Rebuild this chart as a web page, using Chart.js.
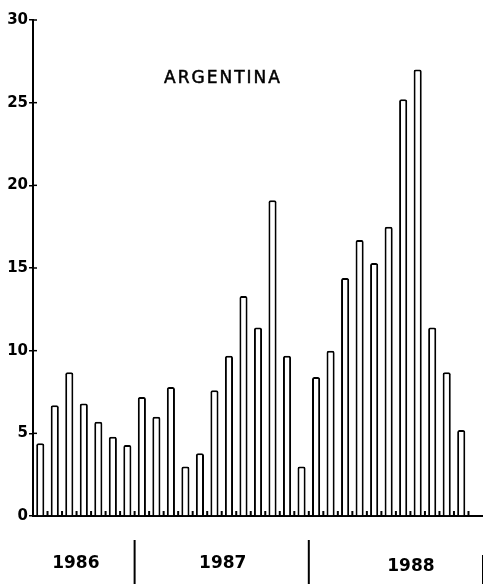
<!DOCTYPE html>
<html lang="es">
<head>
<meta charset="UTF-8">
<title>Argentina</title>
<script src="https://cdn.jsdelivr.net/npm/chart.js"></script>
<style>
  html, body { margin: 0; padding: 0; background: #fff; }
  #wrap { width: 483px; height: 584px; position: relative; }
</style>
</head>
<body>
<div id="wrap"><canvas id="grafico"></canvas></div>
<script>
// datos (jun 1986 - dic 1988)
const anios = ['1986', '1987', '1988'];
const mesInicial = [6, 1, 1];
const valores1986 = [4.4, 6.7, 8.7, 6.8, 5.7, 4.8, 4.3];
const valores1987 = [7.2, 6.0, 7.8, 3.0, 3.8, 7.6, 9.7, 13.3, 11.4, 19.1, 9.7, 3.0];
const valores1988 = [8.4, 10.0, 14.4, 16.7, 15.3, 17.5, 25.2, 27.0, 11.4, 8.7, 5.2, null];
const ticksY = [0, 5, 10, 15, 20, 25, 30];
const titulo = 'ARGENTINA';

const porAnio = [valores1986, valores1987, valores1988];
const etiquetas = [];
const valores = [];
porAnio.forEach(function (lista, a) {
    lista.forEach(function (v, i) {
        etiquetas.push(anios[a] + '-' + String(mesInicial[a] + i).padStart(2, '0'));
        valores.push(v);
    });
});

const fuente = "'DejaVu Sans', sans-serif";
// ajuste manual de los textos de año (estilo, no datos)
const ajusteAnioX = [-8, 1, 15];
const ajusteAnioY = [564, 564, 567];

// marcas cortas, título y años bajo el eje
const extras = {
    id: 'extras',
    afterDraw(chart) {
        const ctx = chart.ctx;
        const x = chart.scales.x;
        const y = chart.scales.y;
        const area = chart.chartArea;
        const paso = x.getPixelForValue(1) - x.getPixelForValue(0);
        ctx.save();
        ctx.strokeStyle = '#000';
        ctx.fillStyle = '#000';

        // marcas entre barras
        ctx.lineWidth = 2;
        for (let i = 1; i < etiquetas.length; i++) {
            const px = x.getPixelForValue(i) - paso / 2;
            ctx.beginPath();
            ctx.moveTo(px, area.bottom);
            ctx.lineTo(px, area.bottom - 5);
            ctx.stroke();
        }

        // marcas del eje y hacia adentro
        ctx.lineWidth = 1.5;
        ticksY.forEach(function (t) {
            const py = y.getPixelForValue(t);
            ctx.beginPath();
            ctx.moveTo(area.left, py);
            ctx.lineTo(area.left + 4, py);
            ctx.stroke();
        });

        // título
        ctx.font = '17px ' + fuente;
        ctx.textAlign = 'center';
        ctx.textBaseline = 'middle';
        if ('letterSpacing' in ctx) ctx.letterSpacing = '2px';
        ctx.fillText(titulo, 223, 79);
        ctx.lineWidth = 0.5;
        ctx.strokeText(titulo, 223, 79);
        if ('letterSpacing' in ctx) ctx.letterSpacing = '0px';

        // años y separadores
        ctx.font = 'bold 17px ' + fuente;
        let inicio = 0;
        porAnio.forEach(function (lista, a) {
            const fin = inicio + lista.length;
            const izq = x.getPixelForValue(inicio) - paso / 2;
            const der = x.getPixelForValue(fin - 1) + paso / 2;
            ctx.fillText(anios[a], (izq + der) / 2 + ajusteAnioX[a], ajusteAnioY[a]);
            ctx.lineWidth = 2;
            ctx.beginPath();
            ctx.moveTo(der, a === porAnio.length - 1 ? 555 : 540);
            ctx.lineTo(der, 584);
            ctx.stroke();
            inicio = fin;
        });
        ctx.restore();
    }
};

new Chart(document.getElementById('grafico'), {
    type: 'bar',
    data: {
        labels: etiquetas,
        datasets: [{
            data: valores,
            backgroundColor: '#fff',
            borderColor: '#000',
            borderWidth: 2,
            borderSkipped: 'bottom',
            borderRadius: { topLeft: 2, topRight: 2 },
            barPercentage: 0.56,
            categoryPercentage: 1.0
        }]
    },
    options: {
        responsive: true,
        maintainAspectRatio: false,
        animation: false,
        layout: { padding: { top: 20, bottom: 68, right: 0, left: 0 } },
        plugins: {
            legend: { display: false },
            tooltip: { enabled: false },
            title: { display: false }
        },
        scales: {
            x: {
                offset: true,
                grid: { display: false },
                border: { display: true, color: '#000', width: 2 },
                ticks: { display: false },
                afterFit(scale) { scale.height = 0; }
            },
            y: {
                min: 0,
                max: 30,
                afterBuildTicks(scale) {
                    scale.ticks = ticksY.map(v => ({ value: v }));
                },
                grid: {
                    drawOnChartArea: false,
                    drawTicks: true,
                    tickLength: 4,
                    color: '#000',
                    lineWidth: 1.5
                },
                border: { display: true, color: '#000', width: 2 },
                ticks: {
                    color: '#000',
                    padding: 1,
                    font: { family: fuente, size: 15, weight: 'bold' }
                },
                afterFit(scale) { scale.width = 33; }
            }
        }
    },
    plugins: [extras]
});
</script>
</body>
</html>
